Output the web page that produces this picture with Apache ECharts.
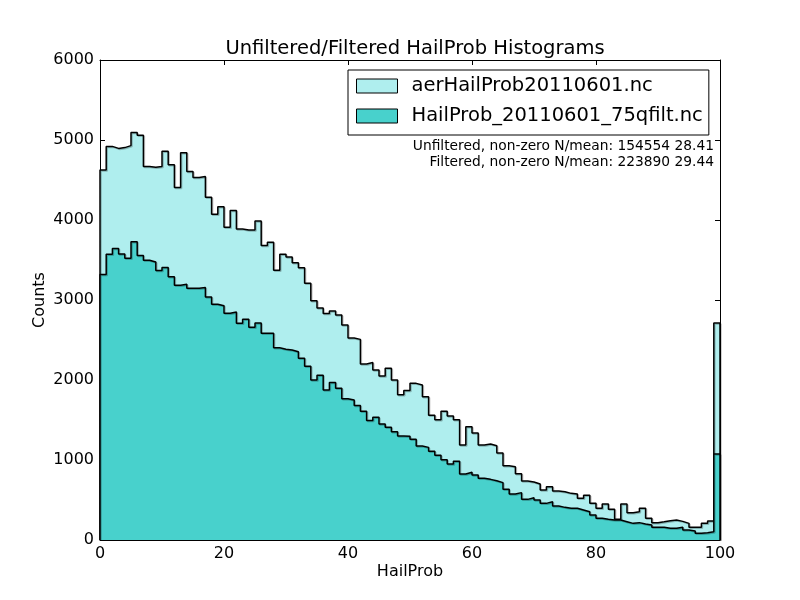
<!DOCTYPE html>
<html>
<head>
<meta charset="utf-8">
<script src="https://cdn.jsdelivr.net/npm/echarts@6/dist/echarts.min.js"></script>
<style>html,body{margin:0;padding:0;background:#fff}#c{width:800px;height:600px}</style>
</head>
<body>
<div id="c"></div>
<script>
// Bin left edges are 0..99 (width 1)
const unfilteredCounts = [
4625,4920,4895,4905,4930,5095,5060,4670,4660,4670,
4860,4690,4405,4840,4605,4530,4545,4285,4073,4167,
3908,4120,3887,3875,3875,3987,3680,3721,3371,3571,
3537,3467,3404,3208,2990,2900,2830,2862,2812,2687,
2525,2508,2200,2218,2125,2050,2146,2000,1815,1870,
1958,1937,1791,1558,1504,1610,1550,1504,1187,1417,
1338,1187,1200,1177,1087,927,917,829,737,725,
700,625,667,612,604,583,575,521,558,458,
396,450,383,258,450,342,354,396,271,217,
229,242,250,233,208,158,158,208,237,2712
];
const filteredCounts = [
3318,3573,3644,3575,3521,3729,3555,3498,3475,3368,
3406,3292,3185,3196,3146,3146,3156,3038,2948,2929,
2835,2850,2710,2758,2660,2712,2583,2585,2402,2385,
2375,2354,2271,2171,2000,2058,1875,1969,1898,1766,
1750,1680,1610,1495,1533,1450,1410,1352,1300,1296,
1260,1175,1158,1108,1060,1004,950,983,825,846,
812,771,758,740,717,633,575,592,508,529,
500,458,479,425,408,396,396,375,354,312,
271,258,250,250,229,208,217,200,187,158,
158,146,146,158,125,112,83,92,104,1075
];
const seriesNames = ['aerHailProb20110601.nc', 'HailProb_20110601_75qfilt.nc'];
const fillColors = ['#afeeee', '#48d1cc'];
const xTicks = [0, 20, 40, 60, 80, 100];
const yTicks = [0, 1000, 2000, 3000, 4000, 5000, 6000];
const titleText = 'Unfiltered/Filtered HailProb Histograms';
const noteLines = ['Unfiltered, non-zero N/mean: 154554 28.41', 'Filtered, non-zero N/mean: 223890 29.44'];

function stepData(vals) {
  const d = [[0, 0]];
  vals.forEach((v, i) => d.push([i, v]));
  d.push([vals.length, vals[vals.length - 1]]);
  d.push([vals.length, 0]);
  return d;
}

const FONT = 'DejaVu Sans';
const chart = echarts.init(document.getElementById('c'), null, {renderer: 'canvas'});

function mkX(pos, labels) {
  return {
    type: 'value', position: pos, min: xTicks[0], max: xTicks[xTicks.length - 1],
    interval: xTicks[1] - xTicks[0],
    name: labels ? 'HailProb' : '', nameLocation: 'middle', nameGap: 24,
    nameMoveOverlap: false,
    nameTextStyle: {fontFamily: FONT, fontSize: 16, color: '#000'},
    axisLine: {show: true, onZero: false, lineStyle: {color: '#000', width: 1}},
    axisTick: {show: true, inside: true, length: 5, lineStyle: {color: '#000'}},
    axisLabel: {show: labels, fontFamily: FONT, fontSize: 16, color: '#000', margin: 6,
      formatter: v => String(v)},
    splitLine: {show: false}
  };
}
function mkY(pos, labels) {
  return {
    type: 'value', position: pos, min: yTicks[0], max: yTicks[yTicks.length - 1],
    interval: yTicks[1] - yTicks[0],
    name: labels ? 'Counts' : '', nameLocation: 'middle', nameGap: 52,
    nameMoveOverlap: false,
    nameTextStyle: {fontFamily: FONT, fontSize: 16, color: '#000'},
    axisLine: {show: true, onZero: false, lineStyle: {color: '#000', width: 1}},
    axisTick: {show: true, inside: true, length: 5, lineStyle: {color: '#000'}},
    axisLabel: {show: labels, fontFamily: FONT, fontSize: 16, color: '#000', margin: 6,
      formatter: v => String(v)},
    splitLine: {show: false}
  };
}

const datasets = [unfilteredCounts, filteredCounts];
const option = {
  animation: false,
  backgroundColor: '#fff',
  title: {
    text: titleText, left: 410, textAlign: 'center', top: 34,
    textStyle: {fontFamily: FONT, fontSize: 19.5, fontWeight: 'normal', color: '#000'}
  },
  grid: {left: 100, right: 80, top: 60, bottom: 60, containLabel: false},
  xAxis: [mkX('bottom', true), mkX('top', false)],
  yAxis: [mkY('left', true), mkY('right', false)],
  legend: {
    orient: 'vertical', left: 348, top: 70,
    itemWidth: 41, itemHeight: 14, itemGap: 10,
    padding: [6, 6, 9, 8],
    borderColor: '#000', borderWidth: 1, backgroundColor: '#fff',
    icon: 'rect',
    textStyle: {fontFamily: FONT, fontSize: 19.5, color: '#000', padding: [0, 0, 0, 9]},
    data: seriesNames.map((n, i) => ({
      name: n, icon: 'rect',
      itemStyle: {color: fillColors[i], borderColor: '#000', borderWidth: 1}
    }))
  },
  graphic: noteLines.map((t, i) => ({
    type: 'text', right: 86, top: 139 + i * 16,
    style: {text: t, fontFamily: FONT, fontSize: 13.8, fill: '#000', textAlign: 'right'}
  })),
  series: datasets.map((vals, i) => ({
    name: seriesNames[i], type: 'line', step: 'end',
    xAxisIndex: 0, yAxisIndex: 0,
    data: stepData(vals), symbol: 'none', silent: true,
    itemStyle: {color: fillColors[i]},
    lineStyle: {color: '#000', width: 1.5, shadowColor: 'rgba(0,0,0,0.25)', shadowOffsetX: 1, shadowOffsetY: 1},
    areaStyle: {color: fillColors[i], opacity: 1},
    z: 2 + i
  }))
};
chart.setOption(option);
</script>
</body>
</html>
